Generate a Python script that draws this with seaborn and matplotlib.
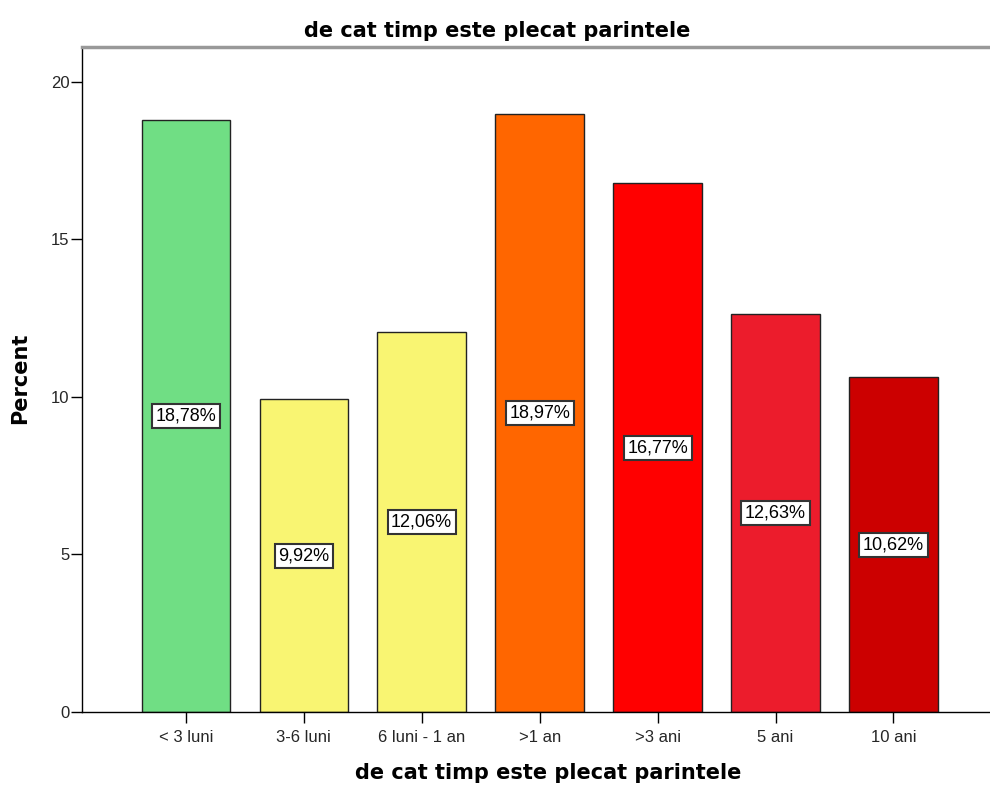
import matplotlib
matplotlib.use("Agg")
import matplotlib.pyplot as plt
import seaborn as sns
import pandas as pd

categories = ["< 3 luni", "3-6 luni", "6 luni - 1 an", ">1 an", ">3 ani", "5 ani", "10 ani"]
percent = [18.78, 9.92, 12.06, 18.97, 16.77, 12.63, 10.62]
value_labels = ["18,78%", "9,92%", "12,06%", "18,97%", "16,77%", "12,63%", "10,62%"]
colors = ["#70DE84", "#F9F572", "#F9F572", "#FF6600", "#FF0000", "#EC1C2C", "#CC0000"]
yticks = [0, 5, 10, 15, 20]
title = "de cat timp este plecat parintele"
ylabel = "Percent"

sns.set_theme(style="white")
plt.rcParams["font.family"] = ["Liberation Sans", "DejaVu Sans"]

df = pd.DataFrame({"cat": categories, "pct": percent})

W, H = 990, 785
fig = plt.figure(figsize=(W / 100, H / 100), dpi=100)
ax = fig.add_axes([82 / W, 73 / H, 907 / W, 665 / H])

sns.barplot(data=df, x="cat", y="pct", hue="cat", palette=colors, legend=False,
            width=0.75, edgecolor="#222222", linewidth=1.0, saturation=1, ax=ax)

for i, (v, lab) in enumerate(zip(percent, value_labels)):
    ax.text(i, v / 2, lab, ha="center", va="center", fontsize=13, color="black",
            bbox=dict(boxstyle="square,pad=0.2", facecolor="white",
                      edgecolor="#333333", linewidth=1.5))

ax.set_xlim(-0.88, 6.81)
ax.set_ylim(0, 21.1)
ax.set_yticks(yticks)
ax.set_yticklabels([str(t) for t in yticks], fontsize=12)
ax.tick_params(axis="x", labelsize=12, length=8, width=1, color="black",
               direction="out", pad=5, bottom=True)
ax.tick_params(axis="y", length=8, width=1, color="black", direction="out",
               pad=1, left=True)

for s in ["left", "bottom"]:
    ax.spines[s].set_color("black")
    ax.spines[s].set_linewidth(1.0)
ax.spines["top"].set_color("#999999")
ax.spines["top"].set_linewidth(2.5)
ax.spines["right"].set_visible(False)
ax.set_xlabel("")
ax.set_ylabel("")

bold = dict(fontsize=15, fontweight="bold", family=["DejaVu Sans"], color="black")
fig.text(497 / W, 1 - 37 / H, title, ha="center", va="baseline", **bold)
fig.text(548 / W, 1 - 779 / H, title, ha="center", va="baseline", **bold)
fig.text(20 / W, 1 - 378 / H, ylabel, ha="center", va="center", rotation=90, **bold)

fig.savefig("out.png", dpi=100)
